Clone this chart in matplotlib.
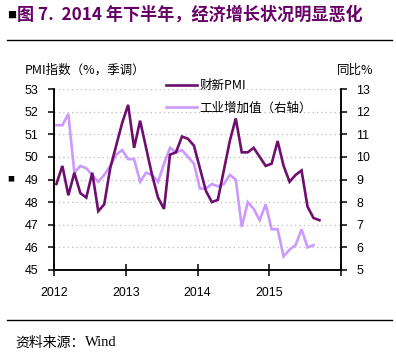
import matplotlib.pyplot as plt
from matplotlib.lines import Line2D

# 财新PMI, 2012-01 .. 2015-09
pmi = [48.8, 49.6, 48.3, 49.3, 48.4, 48.2, 49.3, 47.6, 47.9, 49.5, 50.5, 51.5,
       52.3, 50.4, 51.6, 50.4, 49.2, 48.2, 47.7, 50.1, 50.2, 50.9, 50.8, 50.5,
       49.5, 48.5, 48.0, 48.1, 49.4, 50.7, 51.7, 50.2, 50.2, 50.4, 50.0, 49.6,
       49.7, 50.7, 49.6, 48.9, 49.2, 49.4, 47.8, 47.3, 47.2]
# 工业增加值同比, 2012-01 .. 2015-08
iva = [11.4, 11.4, 11.9, 9.3, 9.6, 9.5, 9.2, 8.9, 9.2, 9.6, 10.1, 10.3,
       9.9, 9.9, 8.9, 9.3, 9.2, 8.9, 9.7, 10.4, 10.2, 10.3, 10.0, 9.7,
       8.6, 8.6, 8.8, 8.7, 8.8, 9.2, 9.0, 6.9, 8.0, 7.7, 7.2, 7.9,
       6.8, 6.8, 5.6, 5.9, 6.1, 6.8, 6.0, 6.1]
years = [2012, 2013, 2014, 2015]

def month_pos(n):
    return [2012 + i // 12 + (i % 12 + 0.4) / 12 for i in range(n)]

dark = '#6E0F6E'
light = '#CC99FF'
cjk = ['Noto Sans CJK SC', 'DejaVu Sans']
num = ['Liberation Sans', 'DejaVu Sans']

fig = plt.figure(figsize=(3.96, 3.55), dpi=100)
ax = fig.add_axes([54 / 396, 1 - 270 / 355, 287 / 396, 181 / 355])
ax2 = ax.twinx()
ax.set_zorder(ax2.get_zorder() + 1)
ax.patch.set_visible(False)

ax2.plot(month_pos(len(iva)), iva, color=light, lw=1.9, solid_joinstyle='miter')
ax.plot(month_pos(len(pmi)), pmi, color=dark, lw=1.9, solid_joinstyle='miter')

ax.set_xlim(2012, 2016)
ax.set_ylim(45, 53)
ax2.set_ylim(5, 13)
ax.set_xticks(years)
ax.set_xticklabels([str(y) for y in years], fontfamily=num, fontsize=8.9)
ax.set_yticks(range(45, 54))
ax.set_yticklabels([str(v) for v in range(45, 54)], fontfamily=num, fontsize=8.9)
ax2.set_yticks(range(5, 14))
ax2.set_yticklabels([str(v) for v in range(5, 14)], fontfamily=num, fontsize=8.9)
ax2.set_xticks(years + [2016])

ax2.grid(True, color='#BBBBBB', linestyle=(0, (1, 2.5)), lw=0.9)
for a in (ax, ax2):
    a.spines['top'].set_visible(False)
    for s in ('left', 'right', 'bottom'):
        a.spines[s].set_linewidth(1.1)
ax.tick_params(axis='y', direction='out', length=4, width=1.1, pad=7)
ax.tick_params(axis='x', direction='inout', length=8, width=1.1, pad=8)
ax2.tick_params(axis='y', direction='out', length=4, width=1.1, pad=7)

handles = [Line2D([], [], color=dark, lw=1.9), Line2D([], [], color=light, lw=1.9)]
fig.legend(handles, ['财新PMI', '工业增加值（右轴）'], loc='upper left',
           bbox_to_anchor=(166 / 396, 1 - 79 / 355), frameon=False,
           prop={'family': cjk, 'size': 9}, handlelength=2.45, handletextpad=0.2,
           borderpad=0, borderaxespad=0, labelspacing=0.75)

fig.text(25 / 396, 1 - 70 / 355, 'PMI指数（%，季调）', fontfamily=cjk, fontsize=9,
         va='center', ha='left')
fig.text(337 / 396, 1 - 70 / 355, '同比%', fontfamily=cjk, fontsize=9,
         va='center', ha='left')

fig.text(7 / 396, 1 - 15 / 355, '■', fontfamily=cjk, fontsize=6.5, va='center', ha='left')
fig.text(17 / 396, 1 - 15 / 355, '图 7.  2014 年下半年，经济增长状况明显恶化',
         fontfamily=cjk, fontsize=12.3, fontweight='bold', color='#660066',
         va='center', ha='left')
fig.add_artist(Line2D([7 / 396, 392 / 396], [1 - 40 / 355] * 2, color='black', lw=1))
fig.add_artist(Line2D([7 / 396, 392 / 396], [1 - 320 / 355] * 2, color='black', lw=1))
fig.text(7 / 396, 1 - 179 / 355, '■', fontfamily=cjk, fontsize=5, va='center', ha='left')

fig.text(15 / 396, 1 - 343 / 355, '资料来源：', fontfamily=cjk, fontsize=10,
         va='center', ha='left')
fig.text(85 / 396, 1 - 343 / 355, 'Wind', fontfamily=['Liberation Serif', 'DejaVu Serif'],
         fontsize=10.5, va='center', ha='left')

fig.savefig('out.png', dpi=100)
